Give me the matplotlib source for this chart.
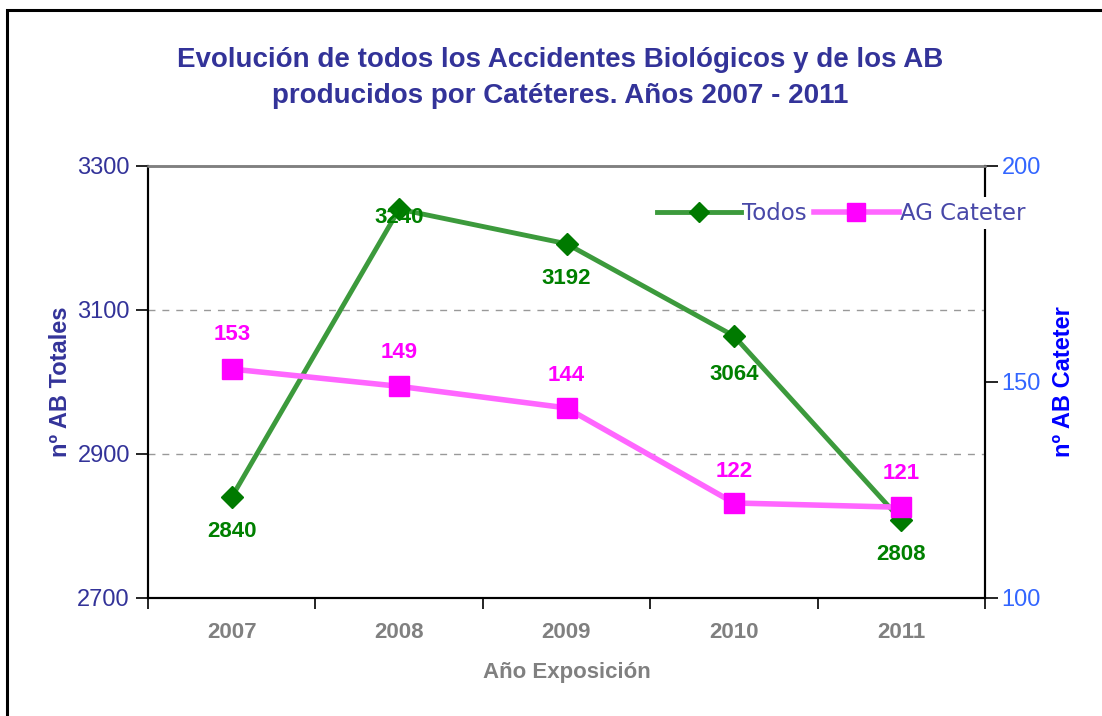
import matplotlib
matplotlib.use("Agg")
import matplotlib.pyplot as plt
from matplotlib.patches import Rectangle

# data
years = ["2007", "2008", "2009", "2010", "2011"]
todos = [2840, 3240, 3192, 3064, 2808]
cateter = [153, 149, 144, 122, 121]

# label offsets (points) for the data labels
todos_dy = [-25, -6, -25, -28, -25]
cateter_dy = [25, 24, 23, 23, 24]

W, H = 1102, 716
fig = plt.figure(figsize=(W / 100, H / 100), dpi=100)
plt.rcParams["font.family"] = ["Liberation Sans", "DejaVu Sans"]

# outer frame of the chart object
fig.add_artist(Rectangle((7 / W, -0.1), 1.2, 1.1 - 10 / H,
                         transform=fig.transFigure, fill=False,
                         lw=2.2, ec="black"))

left, right, top, bottom = 148 / W, 985 / W, 1 - 166 / H, 1 - 598 / H
ax = fig.add_axes([left, bottom, right - left, top - bottom])
ax2 = ax.twinx()

x = list(range(1, len(years) + 1))

ax.plot(x, todos, color="#3C9A3C", lw=3.5, marker="D", ms=11,
        mfc="#007A00", mec="#007A00", label="Todos", zorder=3)
ax2.plot(x, cateter, color="#FF66FF", lw=4, marker="s", ms=14,
         mfc="#FF00FF", mec="#FF00FF", label="AG Cateter", zorder=3)

for xi, v, dy in zip(x, todos, todos_dy):
    ax.annotate(str(v), (xi, v), xytext=(0, dy), textcoords="offset points",
                ha="center", va="center", color="#008000",
                fontsize=16, fontweight="bold")
for xi, v, dy in zip(x, cateter, cateter_dy):
    ax2.annotate(str(v), (xi, v), xytext=(0, dy), textcoords="offset points",
                 ha="center", va="center", color="#FF00FF",
                 fontsize=16, fontweight="bold")

ax.set_xlim(0.5, len(years) + 0.5)
ax.set_ylim(2700, 3300)
ax.set_yticks([2700, 2900, 3100, 3300])
ax2.set_ylim(100, 200)
ax2.set_yticks([100, 150, 200])

ax.set_xticks(x)
ax.set_xticklabels(years)
ax.set_xticks([i + 0.5 for i in range(len(years) + 1)], minor=True)
ax.tick_params(axis="x", which="major", length=0, pad=17,
               labelsize=16, labelcolor="#808080")
for t in ax.get_xticklabels():
    t.set_fontweight("bold")
ax.tick_params(axis="x", which="minor", length=8, width=1.2,
               direction="out", color="black")
ax.tick_params(axis="y", length=9, width=1.2, direction="out",
               labelsize=17, labelcolor="#333399", pad=4)
ax2.tick_params(axis="y", length=9, width=1.2, direction="out",
                labelsize=17, labelcolor="#3366FF", pad=3)

for a in (ax, ax2):
    a.spines["top"].set_color("#808080")
    a.spines["top"].set_linewidth(1.8)
    a.spines["left"].set_linewidth(1.5)
    a.spines["right"].set_linewidth(1.5)
    a.spines["bottom"].set_linewidth(1.5)

ax.grid(axis="y", color="#999999", ls=(0, (5, 5)), lw=1)
ax.set_axisbelow(True)

ax.set_ylabel("nº AB Totales", color="#333399", fontsize=17,
              fontweight="bold", labelpad=4)
ax2.set_ylabel("nº AB Cateter", color="#0000FF", fontsize=17,
               fontweight="bold", labelpad=8)
ax.set_xlabel("Año Exposición", color="#808080", fontsize=16,
              fontweight="bold", labelpad=14)

title_font = dict(ha="center", va="center", fontsize=20, color="#333399",
                  fontweight="bold")
fig.text(560 / W, 1 - 60 / H,
         "Evolución de todos los Accidentes Biológicos y de los AB",
         **title_font)
fig.text(560 / W, 1 - 96 / H,
         "producidos por Catéteres. Años 2007 - 2011", **title_font)

h1, l1 = ax.get_legend_handles_labels()
h2, l2 = ax2.get_legend_handles_labels()
leg = ax2.legend(h1 + h2, l1 + l2, loc="upper right",
                 bbox_to_anchor=(1030 / W, 1 - 197 / H),
                 bbox_transform=fig.transFigure, ncol=2, frameon=True,
                 handlelength=3.7, handletextpad=0.05, columnspacing=0.3,
                 borderpad=0.2, borderaxespad=0, markerscale=0.9,
                 prop={"family": "DejaVu Sans", "size": 16.5})
leg.get_frame().set_facecolor("white")
leg.get_frame().set_edgecolor("none")
leg.get_frame().set_alpha(1)
leg.set_zorder(10)
for t in leg.get_texts():
    t.set_color("#4848A8")

fig.savefig("out.png", dpi=100)
